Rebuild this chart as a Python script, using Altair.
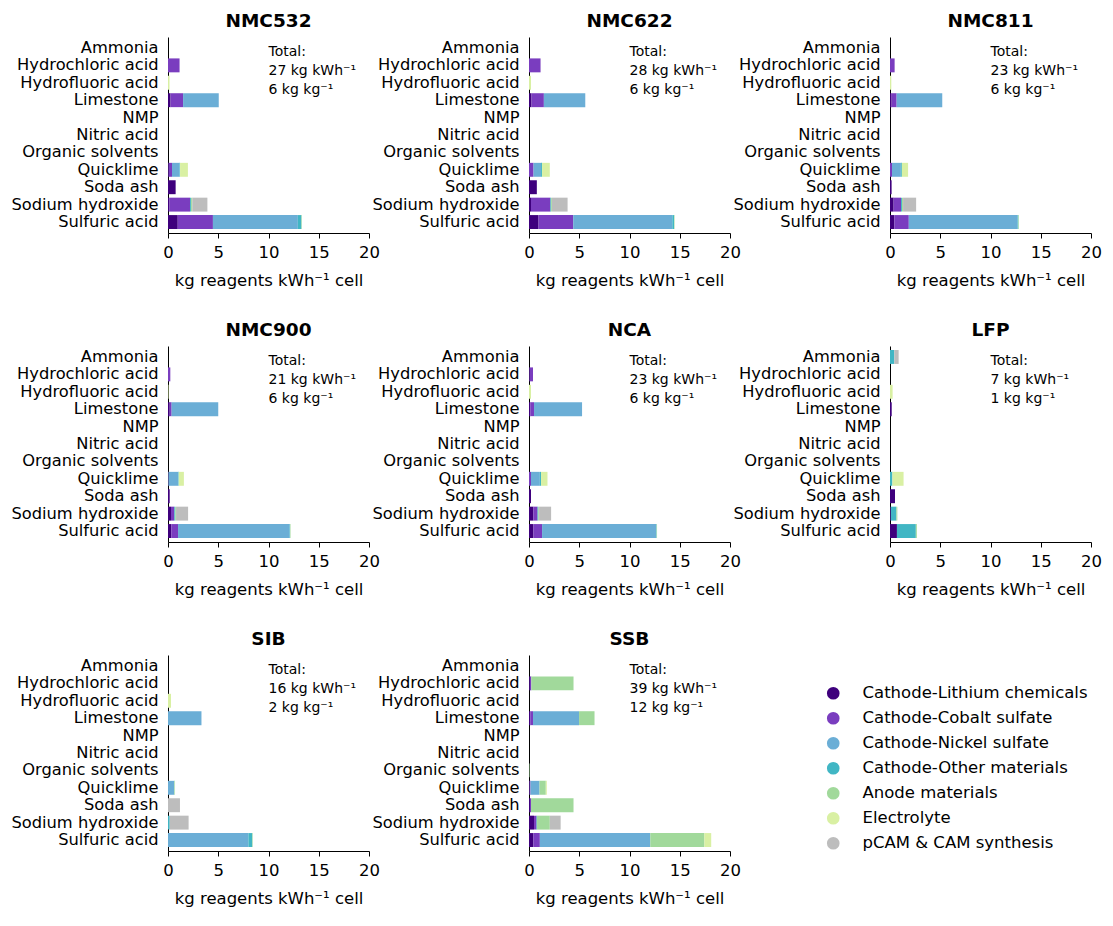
import altair as alt
import pandas as pd

FONT = "DejaVu Sans"
FS = 16.5

reagents = ["Ammonia", "Hydrochloric acid", "Hydrofluoric acid", "Limestone", "NMP",
            "Nitric acid", "Organic solvents", "Quicklime", "Soda ash",
            "Sodium hydroxide", "Sulfuric acid"]

components = ["Cathode-Lithium chemicals", "Cathode-Cobalt sulfate", "Cathode-Nickel sulfate",
              "Cathode-Other materials", "Anode materials", "Electrolyte", "pCAM & CAM synthesis"]
colors = ["#3f007d", "#7a3dbf", "#6baed6", "#41b6c4", "#a1d99b", "#d9f0a3", "#bdbdbd"]

chemistries = ["NMC532", "NMC622", "NMC811", "NMC900", "NCA", "LFP", "SIB", "SSB"]
total_kwh = [27, 28, 23, 21, 23, 7, 16, 39]
total_kg = [6, 6, 6, 6, 6, 1, 2, 12]

# each row = one reagent (order of `reagents`), values per component (order of `components`)
Z = [0, 0, 0, 0, 0, 0, 0]
nmc532 = [Z,
          [0, 1.15, 0, 0, 0, 0, 0],
          [0, 0, 0, 0, 0, 0.15, 0],
          [0.25, 1.25, 3.55, 0, 0, 0, 0],
          Z, Z, Z,
          [0.05, 0.35, 0.75, 0.05, 0, 0.78, 0],
          [0.76, 0, 0, 0, 0, 0, 0],
          [0.15, 2.05, 0, 0.1, 0.12, 0, 1.5],
          [0.97, 3.5, 8.45, 0.35, 0.05, 0, 0]]
nmc622 = [Z,
          [0, 1.15, 0, 0, 0, 0, 0],
          [0, 0, 0, 0, 0, 0.2, 0],
          [0.25, 1.23, 4.12, 0, 0, 0, 0],
          Z, Z, Z,
          [0, 0.45, 0.75, 0.1, 0, 0.77, 0],
          [0.78, 0, 0, 0, 0, 0, 0],
          [0.2, 1.93, 0, 0.08, 0.08, 0, 1.55],
          [0.95, 3.45, 9.86, 0.17, 0.05, 0, 0]]
nmc811 = [Z,
          [0, 0.46, 0, 0, 0, 0, 0],
          [0, 0, 0, 0, 0, 0.13, 0],
          [0.16, 0.5, 4.54, 0, 0, 0, 0],
          Z, Z, Z,
          [0, 0.2, 0.88, 0.1, 0, 0.62, 0],
          [0.16, 0, 0, 0, 0, 0, 0],
          [0.36, 0.74, 0, 0.1, 0.1, 0, 1.3],
          [0.43, 1.44, 10.83, 0.07, 0.05, 0, 0]]
nmc900 = [Z,
          [0, 0.23, 0, 0, 0, 0, 0],
          [0, 0, 0, 0, 0, 0.05, 0],
          [0.17, 0.19, 4.64, 0, 0, 0, 0],
          Z, Z, Z,
          [0, 0.05, 0.97, 0.05, 0, 0.51, 0],
          [0.17, 0, 0, 0, 0, 0, 0],
          [0.3, 0.33, 0, 0.1, 0.07, 0, 1.2],
          [0.33, 0.67, 11.1, 0.04, 0.05, 0, 0]]
nca = [Z,
       [0.05, 0.35, 0, 0, 0, 0, 0],
       [0, 0, 0, 0, 0, 0.2, 0],
       [0.13, 0.37, 4.78, 0, 0, 0, 0],
       Z, Z, Z,
       [0, 0.2, 0.88, 0.12, 0, 0.64, 0],
       [0.2, 0, 0, 0, 0, 0, 0],
       [0.43, 0.42, 0, 0.08, 0.07, 0, 1.2],
       [0.43, 0.87, 11.36, 0.04, 0.04, 0, 0]]
lfp = [[0, 0, 0, 0.43, 0, 0, 0.43],
       Z,
       [0, 0, 0, 0, 0, 0.26, 0],
       [0.17, 0, 0, 0, 0, 0, 0],
       Z, Z, Z,
       [0, 0, 0, 0.22, 0.04, 1.09, 0],
       [0.5, 0, 0, 0, 0, 0, 0],
       [0.08, 0, 0, 0.55, 0.1, 0, 0],
       [0.69, 0, 0, 1.88, 0.1, 0, 0]]
sib = [Z,
       Z,
       [0, 0, 0, 0, 0, 0.3, 0],
       [0, 0, 3.33, 0, 0, 0, 0],
       Z, Z, Z,
       [0, 0, 0.6, 0.05, 0, 0.05, 0],
       [0, 0, 0, 0, 0, 0, 1.19],
       [0, 0, 0, 0.17, 0, 0, 1.88],
       [0, 0, 8.0, 0.38, 0.05, 0, 0]]
ssb = [Z,
       [0.08, 0.15, 0, 0, 4.2, 0, 0],
       Z,
       [0.13, 0.27, 4.58, 0, 1.54, 0, 0],
       Z, Z,
       [0, 0, 0, 0, 0.05, 0, 0],
       [0.05, 0.1, 0.9, 0, 0.62, 0.1, 0],
       [0.1, 0.1, 0, 0, 4.23, 0, 0],
       [0.5, 0.25, 0, 0.05, 1.27, 0, 1.08],
       [0.43, 0.65, 10.99, 0, 5.38, 0.68, 0]]

tables = [nmc532, nmc622, nmc811, nmc900, nca, lfp, sib, ssb]

records = []
for chem, tab in zip(chemistries, tables):
    for reagent, row in zip(reagents, tab):
        for k, (comp, v) in enumerate(zip(components, row)):
            if v > 0:
                records.append({"chem": chem, "reagent": reagent, "comp": comp,
                                "order": k, "value": v})
df = pd.DataFrame(records)

color_scale = alt.Scale(domain=components, range=colors)
legend = alt.Legend(title=None, orient="none", legendX=657, legendY=648,
                    symbolType="circle", symbolSize=160, symbolStrokeWidth=0,
                    symbolOpacity=1, labelFontSize=FS, labelFont=FONT, labelLimit=400,
                    labelColor="black", rowPadding=8, labelOffset=21, padding=0)


def panel(i):
    chem = chemistries[i]
    d = df[df.chem == chem]
    y_enc = alt.Y("reagent:N", sort=reagents,
                  scale=alt.Scale(domain=reagents, paddingInner=0.2, paddingOuter=0.23),
                  axis=alt.Axis(title=None, ticks=False, minExtent=155, maxExtent=155,
                                labelPadding=10, labelLimit=300, labelFontSize=16.3,
                                labelFont=FONT, labelColor="black", domainColor="black",
                                grid=False))
    x_enc = alt.X("value:Q", scale=alt.Scale(domain=[0, 20], nice=False),
                  axis=alt.Axis(values=[0, 5, 10, 15, 20], title="kg reagents kWh⁻¹ cell",
                                tickSize=5, labelPadding=6, titlePadding=12,
                                labelFlush=False,
                                labelFontSize=FS, titleFontSize=FS, labelFont=FONT,
                                titleFont=FONT, titleFontWeight="normal",
                                labelColor="black", titleColor="black",
                                domainColor="black", tickColor="black", grid=False))
    bars = alt.Chart(d).mark_bar().encode(
        x=x_enc, y=y_enc,
        color=alt.Color("comp:N", scale=color_scale, legend=legend),
        order=alt.Order("order:Q"),
    )
    ann = pd.DataFrame({
        "value": [10], "reagent": [reagents[0]],
        "label": [f"Total:\n{total_kwh[i]} kg kWh⁻¹\n{total_kg[i]} kg kg⁻¹"],
    })
    txt = alt.Chart(ann).mark_text(align="left", baseline="top", fontSize=14, font=FONT,
                                   lineHeight=19, lineBreak="\n", dy=-3, color="black").encode(
        x="value:Q", y=alt.Y("reagent:N", sort=reagents), text="label:N")
    return alt.layer(bars, txt).properties(
        width=201, height=196,
        title=alt.TitleParams(chem, fontSize=18.5, fontWeight="bold", font=FONT,
                              offset=7, anchor="middle", color="black"))


rows = [
    alt.hconcat(panel(0), panel(1), panel(2), spacing=160, bounds="flush"),
    alt.hconcat(panel(3), panel(4), panel(5), spacing=160, bounds="flush"),
    alt.hconcat(panel(6), panel(7), spacing=160, bounds="flush"),
]

chart = alt.vconcat(*rows, spacing=31).properties(
    padding={"left": 2, "top": 3, "right": 0, "bottom": 0}
).configure_view(stroke=None).configure_axis(grid=False)

chart.save("out.html", embed_options={"renderer": "svg", "actions": False})
